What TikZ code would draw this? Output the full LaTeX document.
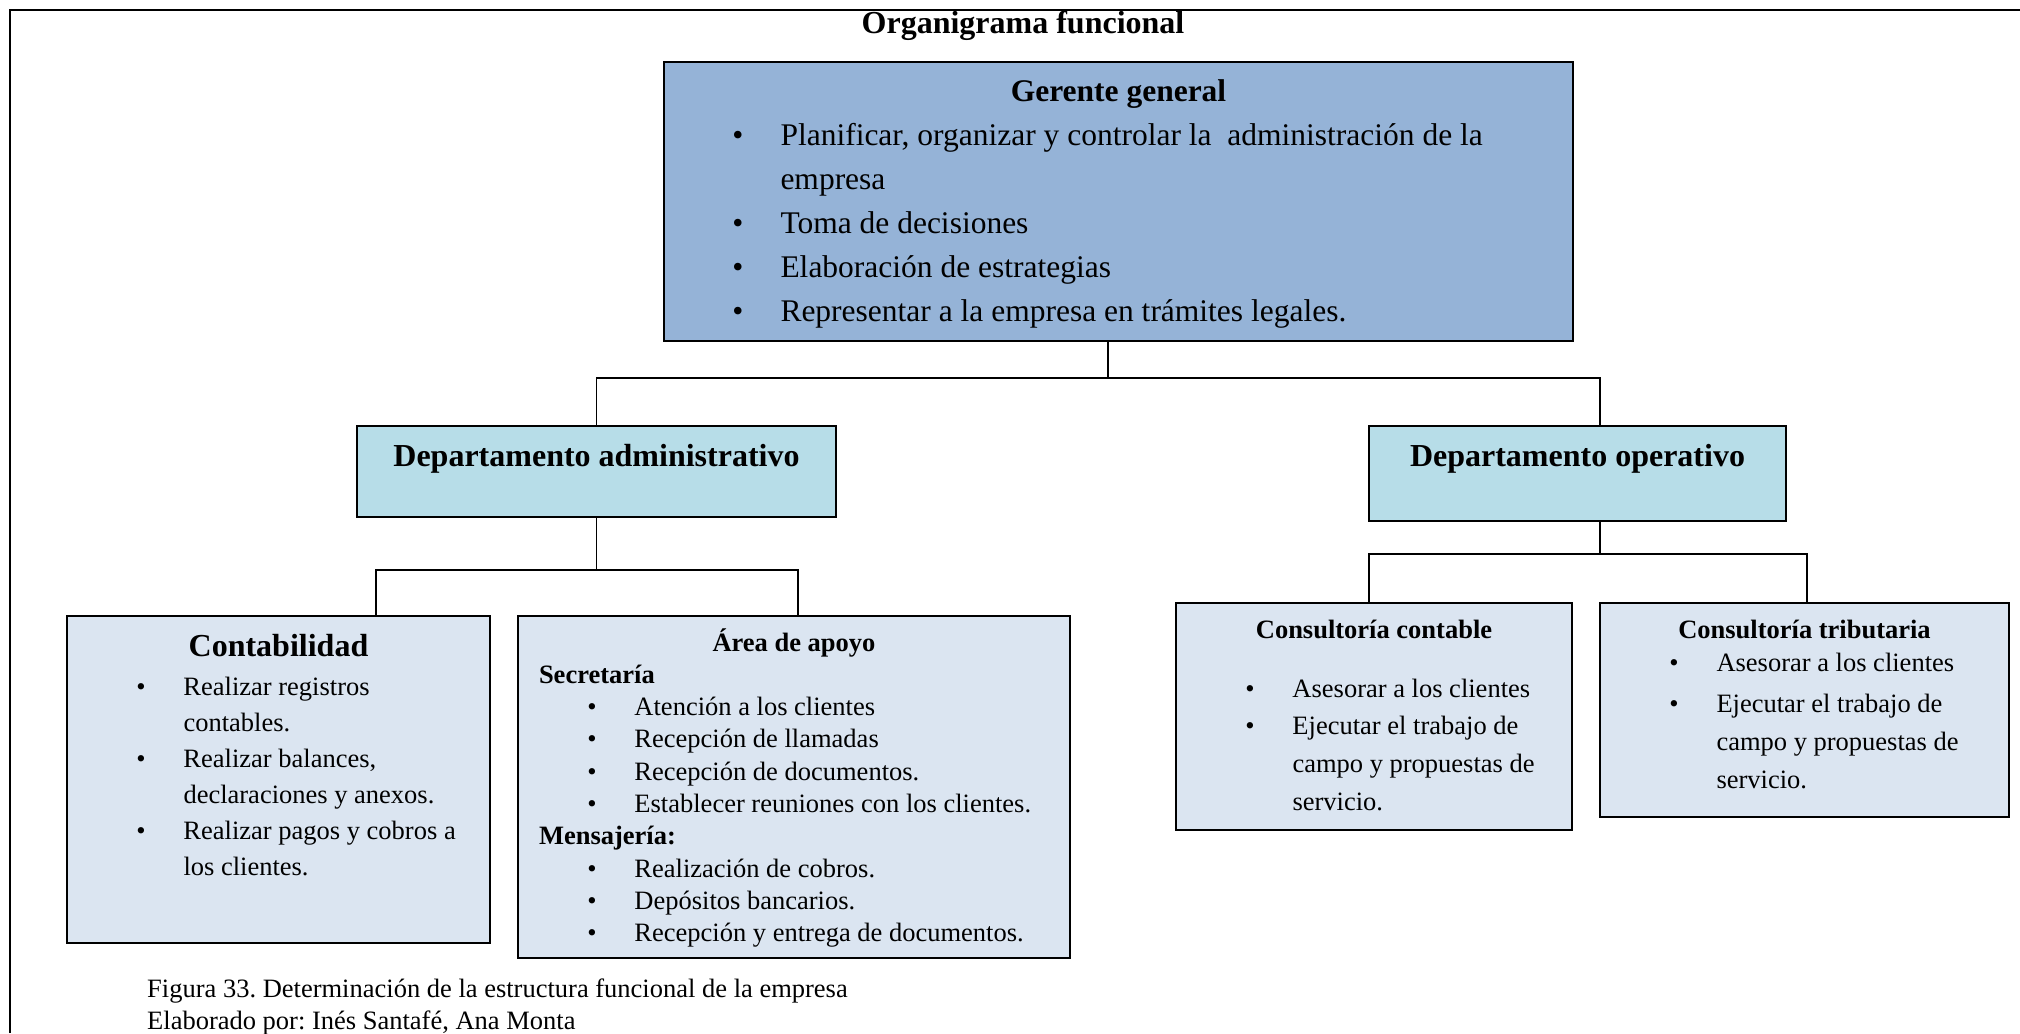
\documentclass[tikz,border=0pt]{standalone}
\usepackage{fontspec}
\setmainfont{Liberation Serif}
\usepackage{xcolor}
\usepackage{tikz}

\definecolor{azulgerente}{HTML}{95B3D7}
\definecolor{celeste}{HTML}{B7DDE8}
\definecolor{azulclaro}{HTML}{DBE5F1}

\frenchspacing
\newlength{\bulx}\setlength{\bulx}{74pt}
\newlength{\txtx}\setlength{\txtx}{116.5pt}
% item with bullet and hanging lines
\newcommand{\punto}[1]{\par\noindent\hangindent=\txtx\hangafter=1\makebox[\txtx][l]{\hspace*{\bulx}\makebox[0pt]{\textbullet}}#1\par}
% fixed size content, top aligned
\newcommand{\contenido}[3]{\parbox[t][#2][t]{#1}{\raggedright #3}}

\begin{document}
\begin{tikzpicture}[x=1pt, y=1pt,
	caja/.style={draw=black, line width=2.4pt, inner sep=0pt},
	conector/.style={line width=1.6pt}]
	\useasboundingbox (0,0) rectangle (2020,-1033);
	\draw[line width=2pt] (10,-1033) -- (10,-10) -- (2020,-10);

	\node (titulo) at (1023,-34) [anchor=base, inner sep=0pt, font=\fontsize{32}{36}\selectfont\bfseries] {Organigrama funcional};
	\node (gerente) at (1118.5,-201.5) [caja, fill=azulgerente, font=\fontsize{31.5}{44}\selectfont] {\contenido{909pt}{279pt}{{\centering\bfseries\rule{0pt}{39.5pt}Gerente general\par}\punto{Planificar, organizar y controlar la~ administración de la\newline empresa}\punto{Toma de decisiones}\punto{Elaboración de estrategias}\punto{Representar a la empresa en trámites legales.}}};
	\node (admin) at (596.5,-471.5) [caja, fill=celeste, font=\fontsize{32}{36}\selectfont\bfseries] {\contenido{479pt}{91pt}{{\centering\rule{0pt}{40.6pt}Departamento administrativo\par}}};
	\node (oper) at (1577.5,-473.5) [caja, fill=celeste, font=\fontsize{32}{36}\selectfont\bfseries] {\contenido{417pt}{95pt}{{\centering\rule{0pt}{40.6pt}Departamento operativo\par}}};
	\node (conta) at (278.5,-779.5) [caja, fill=azulclaro, font=\fontsize{26.5}{36}\selectfont] {\contenido{423pt}{327pt}{{\centering\fontsize{32}{36}\selectfont\bfseries\rule{0pt}{40.6pt}Contabilidad\par}\vspace{2.4pt}\punto{Realizar registros\newline contables.}\punto{Realizar balances,\newline declaraciones y anexos.}\punto{Realizar pagos y cobros a\newline los clientes.}}};
	\node (apoyo) at (794,-787) [caja, fill=azulclaro, font=\fontsize{26.5}{32.3}\selectfont] {\contenido{552pt}{342pt}{{\centering\bfseries\rule{0pt}{35pt}Área de apoyo\par}\noindent\hspace*{21pt}\textbf{Secretaría}\par\punto{Atención a los clientes}\punto{Recepción de llamadas}\punto{Recepción de documentos.}\punto{Establecer reuniones con los clientes.}\noindent\hspace*{21pt}\textbf{Mensajería:}\par\punto{Realización de cobros.}\punto{Depósitos bancarios.}\punto{Recepción y entrega de documentos.}}};
	\node (contable) at (1374,-716.5) [caja, fill=azulclaro, font=\fontsize{26.5}{37.7}\selectfont] {\contenido{396pt}{227pt}{{\centering\bfseries\rule{0pt}{35pt}Consultoría contable\par}\vspace{21.3pt}\punto{Asesorar a los clientes}\punto{Ejecutar el trabajo de\newline campo y propuestas de\newline servicio.}}};
	\node (tributaria) at (1804.5,-710) [caja, fill=azulclaro, font=\fontsize{26.5}{37.7}\selectfont] {\contenido{409pt}{214pt}{{\centering\bfseries\rule{0pt}{35pt}Consultoría tributaria\par}\vspace{-4.7pt}\punto{Asesorar a los clientes}\vspace{4pt}\punto{Ejecutar el trabajo de\newline campo y propuestas de\newline servicio.}}};
	\node (pie) at (147,-972) [anchor=north west, inner sep=0pt, font=\fontsize{26.5}{32}\selectfont] {\parbox[t]{900pt}{\rule{0pt}{25pt}Figura 33. Determinación de la estructura funcional de la empresa\\Elaborado por: Inés Santafé, Ana Monta}};

	\draw[conector] ([xshift=-10.5pt]gerente.south) -- ++(0,-36) -| (admin.north);
	\draw[conector] ([xshift=-10.5pt]gerente.south) -- ++(0,-36) -| ([xshift=22.5pt]oper.north);
	\draw[conector] (admin.south) -- ++(0,-52) -| ([xshift=97.5pt]conta.north);
	\draw[conector] (admin.south) -- ++(0,-52) -| ([xshift=4pt]apoyo.north);
	\draw[conector] ([xshift=22.5pt]oper.south) -- ++(0,-32) -| ([xshift=-5pt]contable.north);
	\draw[conector] ([xshift=22.5pt]oper.south) -- ++(0,-32) -| ([xshift=2.5pt]tributaria.north);
\end{tikzpicture}
\end{document}
